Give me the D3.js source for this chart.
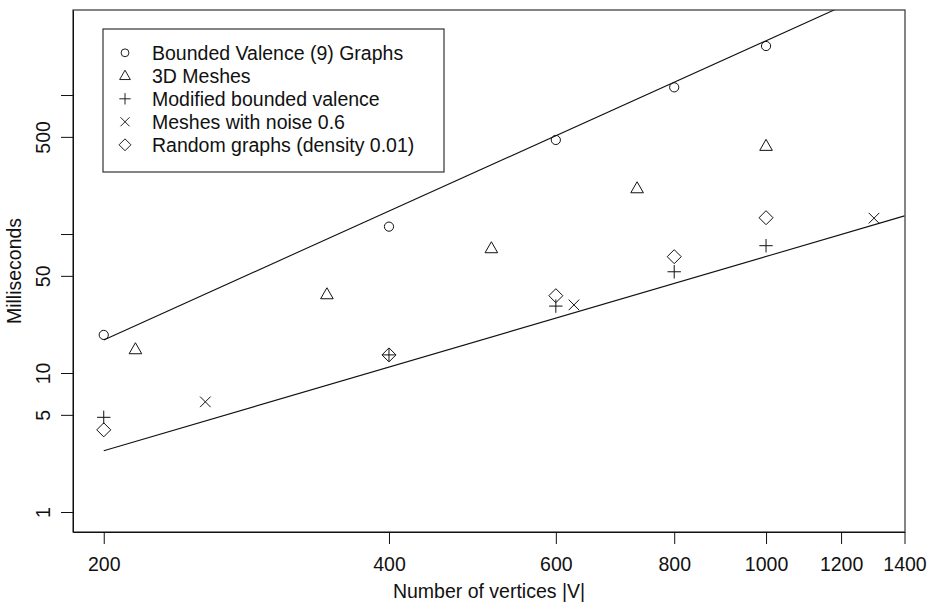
<!DOCTYPE html>
<html>
<head>
<meta charset="utf-8">
<script src="https://cdn.jsdelivr.net/npm/d3@7"></script>
<style>
  body { margin: 0; background: #fff; }
  text { font-family: "Liberation Sans", Arial, Helvetica, sans-serif; fill: #111; }
</style>
</head>
<body>
<div id="chart"></div>
<script>
// values
var seriesNames = ["Bounded Valence (9) Graphs", "3D Meshes", "Modified bounded valence",
                   "Meshes with noise 0.6", "Random graphs (density 0.01)"];
var seriesShapes = ["circle", "triangle", "plus", "cross", "diamond"];

var boundedX = [200, 400, 600, 800, 1000];
var boundedY = [18.8, 113, 475, 1136, 2252];
var meshX = [216, 344, 513, 731, 1000];
var meshY = [14.8, 36.8, 78.9, 213, 430];
var modifiedX = [200, 400, 600, 800, 1000];
var modifiedY = [4.8, 13.5, 30.3, 53.5, 82.4];
var noiseX = [256, 627, 1300];
var noiseY = [6.2, 30.9, 130];
var randomX = [200, 400, 600, 800, 1000];
var randomY = [3.9, 13.5, 36.0, 68.7, 131];

// reference lines, endpoints
var upperLine = [[200, 17.3], [1400, 6930]];
var lowerLine = [[200, 2.76], [1400, 135]];

var xTicks = [200, 400, 600, 800, 1000, 1200, 1400];
var yTicks = [1, 5, 10, 50, 100, 500, 1000];
var yTickLabels = ["1", "5", "10", "50", "", "500", ""];

var xDomain = [185.6, 1400];
var yDomain = [0.718, 4090];

var width = 931, height = 602;
var box = {left: 73, right: 905, top: 10, bottom: 532};
var fontSize = "19.5px";

var svg = d3.select("#chart").append("svg")
    .attr("width", width)
    .attr("height", height);

var x = d3.scaleLog().domain(xDomain).range([box.left, 904.5]);
var y = d3.scaleLog().domain(yDomain).range([box.bottom, box.top]);

// point symbols, R style
function shapePath(shape) {
  if (shape == "circle") return d3.symbol(d3.symbolCircle, Math.PI * 4.6 * 4.6)();
  if (shape == "triangle") return "M0,-6.6L6.3,4.4L-6.3,4.4Z";
  if (shape == "plus") return "M-6.7,0H6.7M0,-6.7V6.7";
  if (shape == "cross") return "M-5.3,-5.3L5.3,5.3M-5.3,5.3L5.3,-5.3";
  if (shape == "diamond") return "M0,-7L7,0L0,7L-7,0Z";
}

svg.append("defs").append("clipPath").attr("id", "plotclip")
  .append("rect")
    .attr("x", box.left).attr("y", box.top)
    .attr("width", box.right - box.left).attr("height", box.bottom - box.top);

var line = d3.line().x(function(d) { return x(d[0]); }).y(function(d) { return y(d[1]); });

[upperLine, lowerLine].forEach(function(l) {
  svg.append("path")
      .attr("d", line(l))
      .attr("clip-path", "url(#plotclip)")
      .attr("fill", "none")
      .attr("stroke", "#111")
      .attr("stroke-width", 1.1);
});

var series = [
  {xs: boundedX, ys: boundedY},
  {xs: meshX, ys: meshY},
  {xs: modifiedX, ys: modifiedY},
  {xs: noiseX, ys: noiseY},
  {xs: randomX, ys: randomY}
];

series.forEach(function(s, i) {
  var pts = s.xs.map(function(v, j) { return [v, s.ys[j]]; });
  svg.append("g").selectAll("path")
    .data(pts)
    .enter().append("path")
      .attr("transform", function(d) { return "translate(" + x(d[0]) + "," + y(d[1]) + ")"; })
      .attr("d", shapePath(seriesShapes[i]))
      .attr("fill", "none")
      .attr("stroke", "#111")
      .attr("stroke-width", 1);
});

// plot box
svg.append("rect")
    .attr("x", box.left).attr("y", box.top)
    .attr("width", box.right - box.left).attr("height", box.bottom - box.top)
    .attr("fill", "none")
    .attr("stroke", "#333")
    .attr("stroke-width", 1.2);

// x axis
var xAxis = svg.append("g")
    .attr("transform", "translate(0," + box.bottom + ")")
    .call(d3.axisBottom(x).tickValues(xTicks).tickFormat(d3.format("d"))
          .tickSize(12).tickSizeOuter(0).tickPadding(13));
xAxis.select(".domain").attr("stroke", "#111");
xAxis.selectAll(".tick line").attr("stroke", "#111");
xAxis.selectAll("text").style("font-size", fontSize).attr("fill", "#111");

// y axis, labels turned like R
var yAxis = svg.append("g")
    .attr("transform", "translate(" + box.left + ",0)")
    .call(d3.axisLeft(y).tickValues(yTicks)
          .tickFormat(function(d, i) { return yTickLabels[i]; })
          .tickSize(12).tickSizeOuter(0));
yAxis.select(".domain").attr("stroke", "#111");
yAxis.selectAll(".tick line").attr("stroke", "#111");
yAxis.selectAll("text")
    .style("font-size", fontSize)
    .attr("fill", "#111")
    .attr("x", 0)
    .attr("dy", 0)
    .attr("text-anchor", "middle")
    .attr("transform", "translate(-23,0) rotate(-90)");

// axis titles
svg.append("text")
    .attr("x", (box.left + box.right) / 2)
    .attr("y", 598)
    .attr("text-anchor", "middle")
    .style("font-size", fontSize)
    .text("Number of vertices |V|");

svg.append("text")
    .attr("transform", "translate(21," + (box.top + box.bottom) / 2 + ") rotate(-90)")
    .attr("text-anchor", "middle")
    .style("font-size", fontSize)
    .text("Milliseconds");

// legend
var legend = svg.append("g");
legend.append("rect")
    .attr("x", 103).attr("y", 29)
    .attr("width", 341).attr("height", 143)
    .attr("fill", "#fff")
    .attr("stroke", "#333")
    .attr("stroke-width", 1.2);

var items = legend.selectAll("g.item")
    .data(seriesNames)
    .enter().append("g")
      .attr("class", "item")
      .attr("transform", function(d, i) { return "translate(0," + (52.8 + i * 23) + ")"; });

items.append("path")
    .attr("transform", "translate(125,0) scale(0.85)")
    .attr("d", function(d, i) { return shapePath(seriesShapes[i]); })
    .attr("fill", "none")
    .attr("stroke", "#111")
    .attr("stroke-width", 1.1);

items.append("text")
    .attr("x", 152)
    .attr("y", 7)
    .style("font-size", fontSize)
    .text(function(d) { return d; });
</script>
</body>
</html>
